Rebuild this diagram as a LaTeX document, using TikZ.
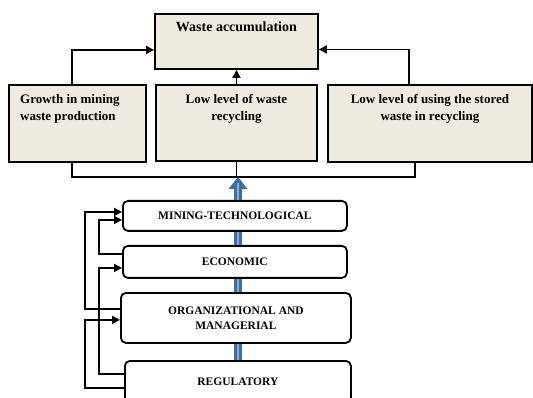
\documentclass[tikz,border=0pt]{standalone}
\usepackage{fontspec}
\setmainfont{Liberation Serif}
\usetikzlibrary{arrows.meta}
\definecolor{paper}{HTML}{EEECE1}
\definecolor{shaft}{HTML}{3F6D9E}
\definecolor{shaftlight}{HTML}{8BA8D0}

\begin{document}
\begin{tikzpicture}[x=1pt, y=-1pt,
		causebox/.style={draw, line width=1.9pt, fill=paper, anchor=north west, inner sep=0pt},
		factorbox/.style={draw, line width=1.8pt, rounded corners=5pt, anchor=north west,
			inner sep=0pt, align=center, font=\bfseries\fontsize{11.5}{15}\selectfont},
		causetext/.style={inner sep=0pt, align=center, font=\bfseries\fontsize{13}{17}\selectfont},
		feed/.style={line width=1.8pt, -{Triangle[length=8pt,width=8pt]}},
		link/.style={line width=1.8pt},
		shaftline/.style={draw=shaft, double=shaftlight, line width=3.8pt, double distance=1.2pt}
	]
		\useasboundingbox (0, 0) rectangle (533, 398);
		\clip (0, 0) rectangle (533, 398);

		% upper row
		\node[causebox, minimum width=163pt, minimum height=55pt,
			label={[causetext, font=\bfseries\fontsize{14}{17}\selectfont, anchor=north, yshift=-9pt]north:Waste accumulation}]
			(accum) at (154, 13) {};
		\node[causebox, minimum width=137pt, minimum height=77pt,
			label={[causetext, align=left, anchor=north west, xshift=12pt, yshift=-10pt]north west:Growth in mining\\waste production}]
			(growth) at (8, 84) {};
		\node[causebox, minimum width=161pt, minimum height=76pt,
			label={[causetext, anchor=north, yshift=-10pt]north:Low level of waste\\recycling}]
			(recyc) at (155, 84) {};
		\node[causebox, minimum width=204pt, minimum height=77pt,
			label={[causetext, anchor=north, yshift=-10pt]north:Low level of using the stored\\waste in recycling}]
			(stored) at (327, 84) {};

		\draw[feed] ([xshift=-5.5pt]growth.north) |- ([yshift=-8.5pt]accum.west);
		\draw[feed] (recyc.north) -- (recyc.north |- accum.south);
		\draw[feed] ([xshift=-21pt]stored.north) |- ([yshift=-8pt]accum.east);

		\coordinate (hub) at (238, 177);
		\draw[link] ([xshift=-5.5pt]growth.south) |- ([xshift=-15pt]stored.south |- hub)
			-- ([xshift=-15pt]stored.south);
		\draw[link] (recyc.south) -- (recyc.south |- hub);

		% factors
		\node[factorbox, minimum width=224pt, minimum height=30pt] (mining) at (122, 200) {MINING-TECHNOLOGICAL};
		\node[factorbox, minimum width=224pt, minimum height=32pt] (econ) at (122, 245) {ECONOMIC};
		\node[factorbox, minimum width=230pt, minimum height=50pt] (org) at (120, 292) {ORGANIZATIONAL AND\\MANAGERIAL};
		\node[factorbox, minimum width=226pt, minimum height=42pt] (regul) at (124, 360) {REGULATORY};

		% blue block arrow
		\draw[shaftline] ([yshift=-11pt]hub) -- (mining.north -| hub);
		\fill[shaft] (hub) -- ++(9.5, 12) -- ++(-19, 0) -- cycle;
		\draw[shaftlight, line width=1.2pt] ([yshift=-6pt]hub) -- ([yshift=-14pt]hub);
		\draw[shaftline] (mining.south -| hub) -- (econ.north -| hub);
		\draw[shaftline] (econ.south -| hub) -- (org.north -| hub);
		\draw[shaftline] (org.south -| hub) -- (regul.north -| hub);

		% feedback lines
		\draw[feed] ([yshift=9pt]org.west) -- ++(-35, 0) |- ([yshift=4pt]mining.west);
		\draw[feed] ([yshift=8pt]econ.west) -- ++(-23, 0) |- ([yshift=-4pt]mining.west);
		\draw[feed] ([yshift=8pt]regul.west) -- ++(-25, 0) |- ([yshift=-6pt]econ.west);
		\draw[feed] ([yshift=-6pt]regul.west) -- ++(-39, 0) |- ([yshift=-2pt]org.west);
	\end{tikzpicture}
\end{document}
